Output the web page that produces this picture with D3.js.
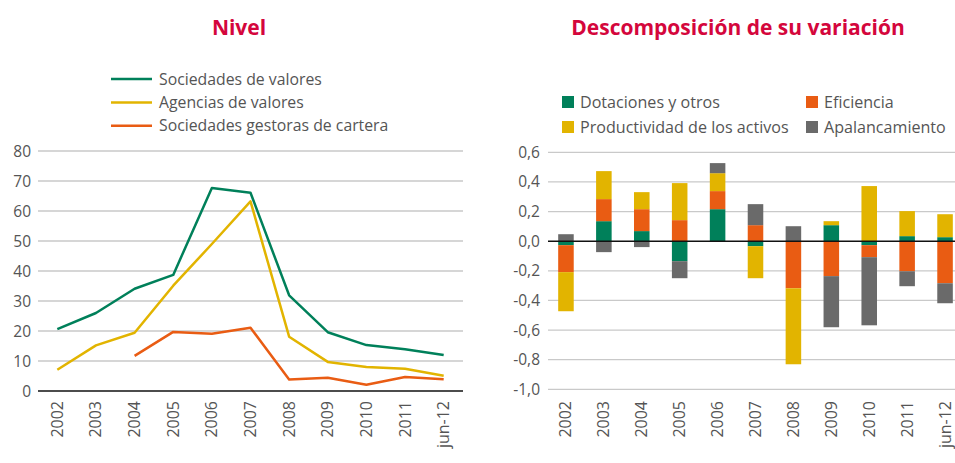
<!DOCTYPE html>
<html>
<head>
<meta charset="utf-8">
<script src="https://cdn.jsdelivr.net/npm/d3@7"></script>
<style>
    body { margin: 0; background: #fff; }
    text { font-family: 'Open Sans', sans-serif; fill: #555; }
</style>
</head>
<body>
<svg></svg>
<script>
// valores
var years = ['2002', '2003', '2004', '2005', '2006', '2007', '2008', '2009', '2010', '2011', 'jun-12'];

var lineNames = ['Sociedades de valores', 'Agencias de valores', 'Sociedades gestoras de cartera'];
var lineColors = ['#00805a', '#e2b400', '#e95c13'];
var sociedadesValores = [20.6, 26, 34.1, 38.7, 67.7, 66.1, 31.9, 19.6, 15.3, 13.9, 12];
var agenciasValores = [7.1, 15.2, 19.4, 35.1, 49, 63.2, 18.1, 9.7, 8, 7.4, 5.1];
var gestorasCartera = [null, null, 11.7, 19.7, 19.1, 21.1, 3.8, 4.4, 2.1, 4.7, 3.9];
var leftTicks = [0, 10, 20, 30, 40, 50, 60, 70, 80];

var barNames = ['Dotaciones y otros', 'Eficiencia', 'Productividad de los activos', 'Apalancamiento'];
var barColors = ['#00805a', '#e95c13', '#e2b400', '#6a6a6a'];
var dotaciones = [-0.027, 0.135, 0.068, -0.135, 0.216, -0.034, 0, 0.108, -0.027, 0.034, 0.027];
var eficiencia = [-0.182, 0.149, 0.148, 0.142, 0.122, 0.108, -0.318, -0.236, -0.081, -0.203, -0.284];
var productividad = [-0.264, 0.189, 0.115, 0.25, 0.121, -0.216, -0.513, 0.027, 0.372, 0.169, 0.155];
var apalancamiento = [0.047, -0.074, -0.04, -0.115, 0.068, 0.142, 0.101, -0.345, -0.46, -0.101, -0.135];
var rightTicks = [-1, -0.8, -0.6, -0.4, -0.2, 0, 0.2, 0.4, 0.6];

var width = 955, height = 463;
var titleColor = '#d4063c';
var gridColor = '#c9c9c9';

var svg = d3.select('svg')
    .attr('width', width)
    .attr('height', height);

// ---------- Nivel ----------
var xL = d3.scaleBand().domain(years).range([38, 463]);
var yL = d3.scaleLinear().domain([0, 80]).range([391, 151]);

svg.append('text')
    .text('Nivel')
    .attr('x', 239)
    .attr('y', 35)
    .attr('text-anchor', 'middle')
    .attr('font-size', '21px')
    .attr('font-weight', 'bold')
    .style('fill', titleColor);

var gL = svg.append('g');

gL.selectAll('.gridL')
    .data(leftTicks.filter(function (d) { return d !== 0 }))
    .enter()
    .append('line')
    .attr('x1', 38)
    .attr('x2', 463)
    .attr('y1', function (d) { return yL(d) })
    .attr('y2', function (d) { return yL(d) })
    .style('stroke', gridColor)
    .style('stroke-width', 1.3);

gL.append('line')
    .attr('x1', 38)
    .attr('x2', 463)
    .attr('y1', yL(0))
    .attr('y2', yL(0))
    .style('stroke', '#111')
    .style('stroke-width', 1.5);

gL.selectAll('.tickL')
    .data(leftTicks)
    .enter()
    .append('text')
    .text(function (d) { return d })
    .attr('x', 31)
    .attr('y', function (d) { return yL(d) + 5.5 })
    .attr('text-anchor', 'end')
    .attr('font-size', '15.5px');

var lineSeries = [sociedadesValores, agenciasValores, gestorasCartera];

var line = d3.line()
    .defined(function (d) { return d !== null })
    .x(function (d, i) { return xL(years[i]) + xL.bandwidth() / 2 })
    .y(function (d) { return yL(d) });

gL.selectAll('.serie')
    .data(lineSeries)
    .enter()
    .append('path')
    .attr('d', line)
    .style('fill', 'none')
    .style('stroke', function (d, i) { return lineColors[i] })
    .style('stroke-width', 2.5)
    .style('stroke-linejoin', 'round');

var legL = gL.selectAll('.legL')
    .data(lineNames)
    .enter()
    .append('g')
    .attr('transform', function (d, i) { return 'translate(111,' + (79 + i * 23.4) + ')' });

legL.append('line')
    .attr('x1', 0)
    .attr('x2', 41)
    .style('stroke', function (d, i) { return lineColors[i] })
    .style('stroke-width', 2.5);

legL.append('text')
    .text(function (d) { return d })
    .attr('x', 48)
    .attr('y', 5.5)
    .attr('font-size', '15.8px');

gL.selectAll('.xL')
    .data(years)
    .enter()
    .append('text')
    .text(function (d) { return d })
    .attr('text-anchor', 'end')
    .attr('font-size', '16px')
    .attr('transform', function (d) {
        return 'translate(' + (xL(d) + xL.bandwidth() / 2 + 5.5) + ',401) rotate(-90)';
    });

// ---------- Descomposicion ----------
var xR = d3.scaleBand().domain(years).range([547, 964]).paddingInner(0.59).paddingOuter(0.295);
var yR = d3.scaleLinear().domain([-1, 0.6]).range([389.3, 152.3]);

svg.append('text')
    .text('Descomposición de su variación')
    .attr('x', 738)
    .attr('y', 35)
    .attr('text-anchor', 'middle')
    .attr('font-size', '21px')
    .attr('font-weight', 'bold')
    .style('fill', titleColor);

var gR = svg.append('g');

gR.selectAll('.gridR')
    .data(rightTicks.filter(function (d) { return d !== 0 }))
    .enter()
    .append('line')
    .attr('x1', 548)
    .attr('x2', 955)
    .attr('y1', function (d) { return yR(d) })
    .attr('y2', function (d) { return yR(d) })
    .style('stroke', gridColor)
    .style('stroke-width', 1.3);

gR.selectAll('.tickR')
    .data(rightTicks)
    .enter()
    .append('text')
    .text(function (d) { return d3.format('.1f')(d).replace('.', ',').replace('−', '-') })
    .attr('x', 540)
    .attr('y', function (d) { return yR(d) + 5.5 })
    .attr('text-anchor', 'end')
    .attr('font-size', '15.5px');

var table = years.map(function (y, i) {
    return {
        year: y,
        'Dotaciones y otros': dotaciones[i],
        'Eficiencia': eficiencia[i],
        'Productividad de los activos': productividad[i],
        'Apalancamiento': apalancamiento[i]
    };
});

var stack = d3.stack()
    .keys(barNames)
    .offset(d3.stackOffsetDiverging);

var layers = stack(table);

gR.selectAll('.layer')
    .data(layers)
    .enter()
    .append('g')
    .style('fill', function (d, i) { return barColors[i] })
    .selectAll('rect')
    .data(function (d) { return d })
    .enter()
    .append('rect')
    .attr('x', function (d) { return xR(d.data.year) })
    .attr('width', xR.bandwidth())
    .attr('y', function (d) { return yR(Math.max(d[0], d[1])) })
    .attr('height', function (d) { return Math.abs(yR(d[0]) - yR(d[1])) });

gR.append('line')
    .attr('x1', 548)
    .attr('x2', 955)
    .attr('y1', yR(0))
    .attr('y2', yR(0))
    .style('stroke', '#111')
    .style('stroke-width', 1.5);

var legPos = [[562, 102], [806, 102], [562, 127], [806, 127]];
var legOrder = [0, 1, 2, 3];

var legR = gR.selectAll('.legR')
    .data(legOrder)
    .enter()
    .append('g')
    .attr('transform', function (d) { return 'translate(' + legPos[d][0] + ',' + legPos[d][1] + ')' });

legR.append('rect')
    .attr('x', 0)
    .attr('y', -6)
    .attr('width', 12)
    .attr('height', 12)
    .style('fill', function (d) { return barColors[d] });

legR.append('text')
    .text(function (d) { return barNames[d] })
    .attr('x', 18)
    .attr('y', 5.5)
    .attr('font-size', '16.1px');

gR.selectAll('.xR')
    .data(years)
    .enter()
    .append('text')
    .text(function (d) { return d })
    .attr('text-anchor', 'end')
    .attr('font-size', '16px')
    .attr('transform', function (d) {
        return 'translate(' + (xR(d) + xR.bandwidth() / 2 + 5.5) + ',401) rotate(-90)';
    });
</script>
</body>
</html>
